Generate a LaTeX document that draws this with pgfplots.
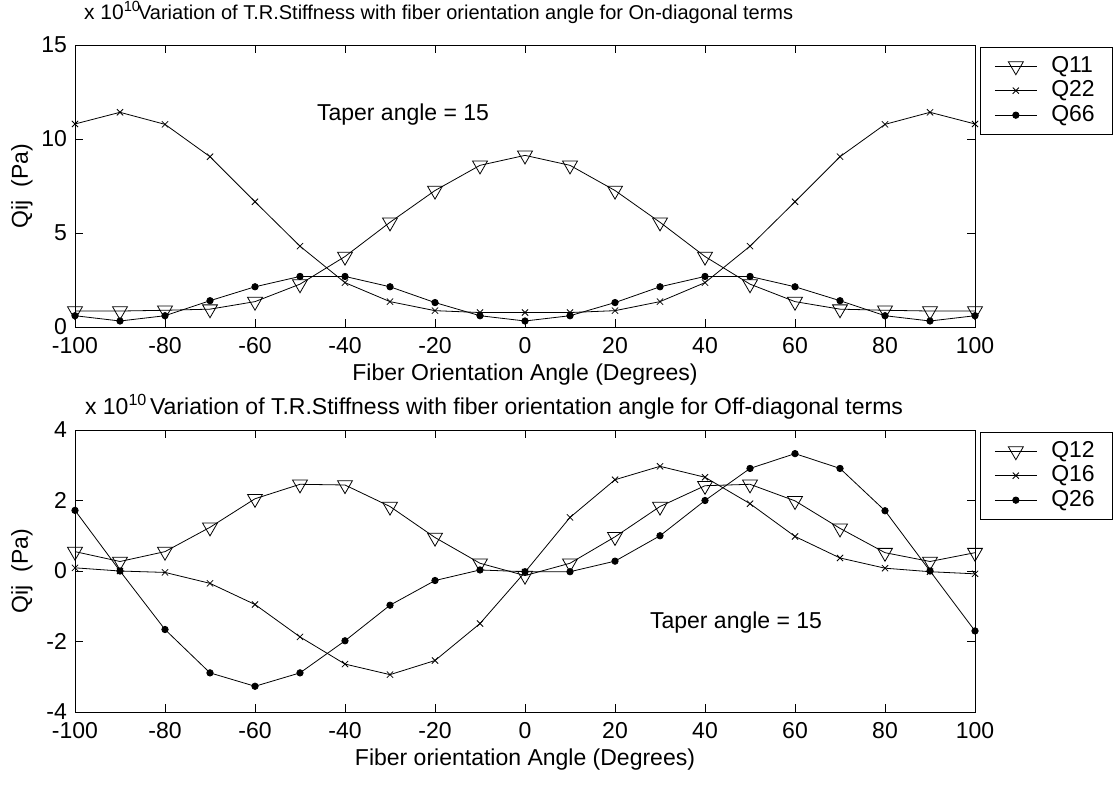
\documentclass[border=0pt]{standalone}
\usepackage{fontspec}
\setmainfont{Liberation Sans}
\usepackage{pgfplots}
\pgfplotsset{compat=1.18}

% data in units of 1e10 Pa
\begin{document}
\fontsize{11.5}{13.5}\selectfont
\begin{tikzpicture}
\useasboundingbox (-37.5pt,22.5pt) rectangle (521.5pt,-372pt);
\pgfplotsset{
  matstyle/.style={
    width=450pt, height=141pt, scale only axis,
    xmin=-100, xmax=100, xtick={-100,-80,...,100},
    tick align=inside, major tick length=4pt,
    tick style={black, thin}, axis line style={thin},
    /pgf/number format/assume math mode=true,
    tick label style={font=\fontsize{11.5}{13.5}\selectfont},
    xticklabel style={yshift=-1pt},
    label style={font=\fontsize{11.5}{13.5}\selectfont},
    xlabel style={at={(axis description cs:0.5,-0.17)}, anchor=center},
    ylabel style={at={(axis description cs:-0.059,0.5)}, anchor=center},
    legend style={at={(1.0056,0.993)}, anchor=north west, draw=black, thin,
      font=\fontsize{11.5}{13.5}\selectfont, inner xsep=7pt, inner ysep=2.5pt,
      row sep=-1.5pt, /tikz/every odd column/.append style={column sep=5pt}},
    legend cell align=left,
    legend image code/.code={\draw[mark repeat=2,mark phase=2,#1]
      plot coordinates {(0pt,0pt) (10.5pt,0pt) (21pt,0pt)};},
    clip=false,
  },
  triv/.style={black, thin, mark=triangle, mark size=4.3pt, mark options={solid, rotate=180}},
  crs/.style={black, thin, mark=x, mark size=2.2pt},
  dot/.style={black, thin, mark=*, mark size=1.6pt},
}

% ---- on-diagonal terms ----
\begin{axis}[matstyle, at={(0,0)}, anchor=north west,
  ymin=0, ymax=15, ytick={0,5,10,15},
  xlabel={Fiber Orientation Angle (Degrees)},
  ylabel={Qij\ \ (Pa)}]
\addplot[triv] coordinates {
 (-100,0.85) (-90,0.85) (-80,0.89) (-70,0.95) (-60,1.35) (-50,2.28) (-40,3.75)
 (-30,5.57) (-20,7.26) (-10,8.6) (0,9.13) (10,8.6) (20,7.26) (30,5.57) (40,3.75)
 (50,2.28) (60,1.35) (70,0.95) (80,0.89) (90,0.85) (100,0.85)};
\addlegendentry{Q11\hspace{8pt}}
\addplot[crs] coordinates {
 (-100,10.8) (-90,11.42) (-80,10.78) (-70,9.06) (-60,6.66) (-50,4.3) (-40,2.36)
 (-30,1.35) (-20,0.87) (-10,0.77) (0,0.77) (10,0.77) (20,0.87) (30,1.35) (40,2.36)
 (50,4.3) (60,6.66) (70,9.06) (80,10.78) (90,11.42) (100,10.8)};
\addlegendentry{Q22\hspace{8pt}}
\addplot[dot] coordinates {
 (-100,0.6) (-90,0.32) (-80,0.6) (-70,1.4) (-60,2.14) (-50,2.69) (-40,2.69)
 (-30,2.14) (-20,1.3) (-10,0.6) (0,0.32) (10,0.6) (20,1.3) (30,2.14) (40,2.69)
 (50,2.69) (60,2.14) (70,1.4) (80,0.6) (90,0.32) (100,0.6)};
\addlegendentry{Q66\hspace{8pt}}
\node[anchor=west] at (axis cs:-48,11.3) {Taper angle = 15};
\node[anchor=base west, font=\fontsize{10.5}{12}\selectfont] at (rel axis cs:0,1) [xshift=0.5pt, yshift=13pt] {x 10\textsuperscript{10}};
\node[anchor=base west, font=\fontsize{10}{12}\selectfont] at (rel axis cs:0,1) [xshift=27.5pt, yshift=13pt] {Variation of T.R.Stiffness with fiber orientation angle for On-diagonal terms};
\end{axis}

% ---- off-diagonal terms ----
\begin{axis}[matstyle, at={(0,-192.5pt)}, anchor=north west,
  ymin=-4, ymax=4, ytick={-4,-2,...,4},
  xlabel={Fiber orientation Angle (Degrees)},
  ylabel={Qij\ \ (Pa)}]
\addplot[triv] coordinates {
 (-100,0.55) (-90,0.27) (-80,0.55) (-70,1.24) (-60,2.05) (-50,2.46) (-40,2.44)
 (-30,1.83) (-20,0.95) (-10,0.22) (0,-0.13) (10,0.22) (20,0.97) (30,1.83) (40,2.42)
 (50,2.46) (60,1.99) (70,1.21) (80,0.52) (90,0.27) (100,0.52)};
\addlegendentry{Q12\hspace{8pt}}
\addplot[crs] coordinates {
 (-100,0.09) (-90,0) (-80,-0.04) (-70,-0.35) (-60,-0.95) (-50,-1.87) (-40,-2.64)
 (-30,-2.94) (-20,-2.54) (-10,-1.49) (0,-0.03) (10,1.52) (20,2.59) (30,2.97) (40,2.66)
 (50,1.91) (60,0.98) (70,0.37) (80,0.08) (90,-0.02) (100,-0.08)};
\addlegendentry{Q16\hspace{8pt}}
\addplot[dot] coordinates {
 (-100,1.72) (-90,0) (-80,-1.66) (-70,-2.89) (-60,-3.27) (-50,-2.89) (-40,-1.98)
 (-30,-0.97) (-20,-0.27) (-10,0.03) (0,-0.02) (10,-0.02) (20,0.28) (30,1.0) (40,2.0)
 (50,2.91) (60,3.33) (70,2.91) (80,1.71) (90,0) (100,-1.7)};
\addlegendentry{Q26\hspace{8pt}}
\node[anchor=west] at (axis cs:26,-1.45) {Taper angle = 15};
\node[anchor=base west] at (rel axis cs:0,1) [xshift=1pt, yshift=8pt] {x 10\textsuperscript{10}};
\node[anchor=base west] at (rel axis cs:0,1) [xshift=33.5pt, yshift=8pt] {Variation of T.R.Stiffness with fiber orientation angle for Off-diagonal terms};
\end{axis}
\end{tikzpicture}
\end{document}
